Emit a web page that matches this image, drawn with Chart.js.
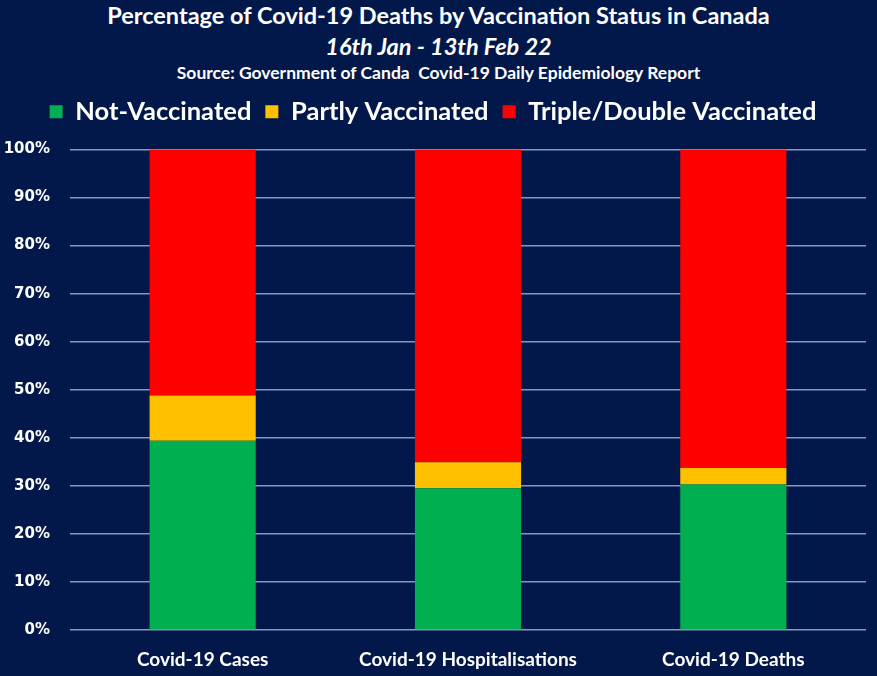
<!DOCTYPE html>
<html>
<head>
<meta charset="utf-8">
<script src="https://cdn.jsdelivr.net/npm/chart.js@4.4.1/dist/chart.umd.min.js"></script>
<style>
    html, body { margin: 0; padding: 0; background: #03184a; }
    body { width: 877px; height: 676px; position: relative; overflow: hidden; }
    .hdr { position: absolute; left: 0; width: 877px; text-align: center; color: #fff; font-family: Lato, sans-serif; font-weight: bold; white-space: nowrap; }
    #t1 { top: 1px; font-size: 23.5px; }
    #t2 { top: 32px; font-size: 23.5px; font-style: italic; }
    #t3 { top: 62px; font-size: 17.5px; }
    #wrap { position: absolute; left: 0; top: 85px; width: 877px; height: 591px; }
</style>
</head>
<body>
<div class="hdr" id="t1">Percentage of Covid-19 Deaths by Vaccination Status in Canada</div>
<div class="hdr" id="t2">16th Jan - 13th Feb 22</div>
<div class="hdr" id="t3">Source: Government of Canda&nbsp; Covid-19 Daily Epidemiology Report</div>
<div id="wrap"><canvas id="vaxChart"></canvas></div>
<script>
const categories = ['Covid-19 Cases', 'Covid-19 Hospitalisations', 'Covid-19 Deaths'];
const notVaccinated = [39.4, 29.5, 30.3];
const partlyVaccinated = [9.4, 5.4, 3.4];
const tripleDoubleVaccinated = [51.2, 65.1, 66.3];
const yTicks = [0, 10, 20, 30, 40, 50, 60, 70, 80, 90, 100];

// extra room under the legend
const legendGap = {
    id: 'legendGap',
    beforeInit(chart) {
        const fit = chart.legend.fit;
        chart.legend.fit = function () {
            fit.bind(chart.legend)();
            this.height += 15;
        };
    },
};

const ctx = document.getElementById('vaxChart').getContext('2d');
const chart = new Chart(ctx, {
    type: 'bar',
    data: {
        labels: categories,
        datasets: [
            { label: 'Not-Vaccinated', data: notVaccinated, backgroundColor: '#00b050' },
            { label: 'Partly Vaccinated', data: partlyVaccinated, backgroundColor: '#ffc000' },
            { label: 'Triple/Double Vaccinated', data: tripleDoubleVaccinated, backgroundColor: '#ff0000' },
        ],
    },
    options: {
        responsive: true,
        maintainAspectRatio: false,
        animation: false,
        barPercentage: 0.4,
        categoryPercentage: 1.0,
        layout: { padding: { left: 0, right: 11, top: 0, bottom: 0 } },
        plugins: {
            tooltip: { enabled: false },
            legend: {
                position: 'top',
                labels: {
                    color: '#fff',
                    font: { family: 'Lato', size: 25.5, weight: 'bold' },
                    usePointStyle: true,
                    pointStyle: 'rect',
                    boxWidth: 13,
                    boxHeight: 13,
                    padding: 14,
                },
            },
        },
        scales: {
            x: {
                stacked: true,
                grid: { display: false },
                border: { display: false },
                afterFit: (axis) => { axis.height = 46; },
                ticks: { color: '#fff', font: { family: 'Lato', size: 19, weight: 'bold' }, padding: 10 },
            },
            y: {
                stacked: true,
                min: 0,
                max: 100,
                afterBuildTicks: (axis) => { axis.ticks = yTicks.map(v => ({ value: v })); },
                afterFit: (axis) => { axis.width = 70; },
                grid: { color: '#8a97b8', lineWidth: 1.5, drawTicks: false },
                border: { display: false },
                ticks: {
                    color: '#fff',
                    font: { family: 'DejaVu Sans', size: 15, weight: 'bold' },
                    padding: 20,
                    callback: (v) => v + '%',
                },
            },
        },
    },
    plugins: [legendGap],
});
</script>
</body>
</html>
